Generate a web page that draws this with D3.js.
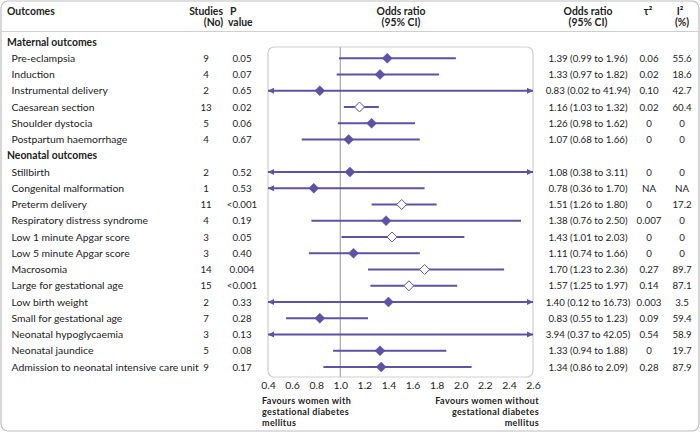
<!DOCTYPE html>
<html>
<head>
<meta charset="utf-8">
<script src="https://cdn.jsdelivr.net/npm/d3@7"></script>
<style>
  html, body { margin: 0; padding: 0; background: #fff; }
  svg { display: block; }
  text { font-family: Lato, "Noto Sans", sans-serif; fill: #222; }
</style>
</head>
<body>
<svg id="chart" width="700" height="432"></svg>
<script>
// ---- Data ----
const groups = ["Maternal outcomes", "Neonatal outcomes"];
const outcomes = [
  "Pre-eclampsia", "Induction", "Instrumental delivery", "Caesarean section",
  "Shoulder dystocia", "Postpartum haemorrhage",
  "Stillbirth", "Congenital malformation", "Preterm delivery",
  "Respiratory distress syndrome", "Low 1 minute Apgar score", "Low 5 minute Apgar score",
  "Macrosomia", "Large for gestational age", "Low birth weight", "Small for gestational age",
  "Neonatal hypoglycaemia", "Neonatal jaundice", "Admission to neonatal intensive care unit"
];
const outcomeGroup = [0,0,0,0,0,0, 1,1,1,1,1,1,1,1,1,1,1,1,1];
const studies = [9,4,2,13,5,4, 2,1,11,4,3,3,14,15,2,7,3,5,9];
const pValues = ["0.05","0.07","0.65","0.02","0.06","0.67",
  "0.52","0.53","<0.001","0.19","0.05","0.40","0.004","<0.001","0.33","0.28","0.13","0.08","0.17"];
const oddsRatio = [1.39,1.33,0.83,1.16,1.26,1.07, 1.08,0.78,1.51,1.38,1.43,1.11,1.70,1.57,1.40,0.83,3.94,1.33,1.34];
const ciLower  = [0.99,0.97,0.02,1.03,0.98,0.68, 0.38,0.36,1.26,0.76,1.01,0.74,1.23,1.25,0.12,0.55,0.37,0.94,0.86];
const ciUpper  = [1.96,1.82,41.94,1.32,1.62,1.66, 3.11,1.70,1.80,2.50,2.03,1.66,2.36,1.97,16.73,1.23,42.05,1.88,2.09];
const tau2 = ["0.06","0.02","0.10","0.02","0","0", "0","NA","0","0.007","0","0","0.27","0.14","0.003","0.09","0.54","0","0.28"];
const i2   = ["55.6","18.6","42.7","60.4","0","0", "0","NA","17.2","0","0","0","89.7","87.1","3.5","59.4","58.9","19.7","87.9"];
const axisTicks = [0.4,0.6,0.8,1.0,1.2,1.4,1.6,1.8,2.0,2.2,2.4,2.6];

// ---- Build rows ----
const rows = [];
groups.forEach((g, gi) => {
  rows.push({key: "h" + gi, header: true, label: g});
  outcomes.forEach((o, i) => {
    if (outcomeGroup[i] === gi) rows.push({
      key: "r" + i, header: false, label: o, n: studies[i], p: pValues[i],
      or: oddsRatio[i], lo: ciLower[i], hi: ciUpper[i], tau: tau2[i], i2: i2[i]
    });
  });
});

const purple = "#5f51a3";
const fs = 10.4;     // label text
const fsNum = 9.7;   // numeric columns
const svg = d3.select("#chart");

const x = d3.scaleLinear().domain([0.4, 2.6]).range([268, 533]);
const y = d3.scalePoint().domain(rows.map(r => r.key)).range([42, 367]);
const panelTop = 47, panelBottom = 377;

// Outer border
svg.append("rect").attr("x", 1).attr("y", 1).attr("width", 698).attr("height", 430)
  .attr("rx", 7).attr("fill", "none").attr("stroke", "#bdbdbd").attr("stroke-width", 1.2);
// Header separator
svg.append("line").attr("x1", 1).attr("x2", 699).attr("y1", 31.5).attr("y2", 31.5)
  .attr("stroke", "#cfcfcf").attr("stroke-width", 1);

// Column headers
const hdr = svg.append("g").attr("font-weight", "bold").attr("font-size", fs);
hdr.append("text").attr("x", 7).attr("y", 15).text("Outcomes");
hdr.append("text").attr("x", 223).attr("y", 15).attr("text-anchor", "end").text("Studies");
hdr.append("text").attr("x", 223).attr("y", 26).attr("text-anchor", "end").text("(No)");
hdr.append("text").attr("x", 230).attr("y", 15).text("P");
hdr.append("text").attr("x", 228).attr("y", 26).text("value");
hdr.append("text").attr("x", 401).attr("y", 15).attr("text-anchor", "middle").text("Odds ratio");
hdr.append("text").attr("x", 401).attr("y", 26).attr("text-anchor", "middle").text("(95% CI)");
hdr.append("text").attr("x", 588).attr("y", 15).attr("text-anchor", "middle").text("Odds ratio");
hdr.append("text").attr("x", 588).attr("y", 26).attr("text-anchor", "middle").text("(95% CI)");
hdr.append("text").attr("x", 648).attr("y", 15).attr("text-anchor", "middle").text("τ²");
hdr.append("text").attr("x", 680).attr("y", 15).attr("text-anchor", "middle").text("I²");
hdr.append("text").attr("x", 682).attr("y", 26).attr("text-anchor", "middle").text("(%)");

// Plot panel
svg.append("rect").attr("x", x(0.4)).attr("y", panelTop)
  .attr("width", x(2.6) - x(0.4)).attr("height", panelBottom - panelTop)
  .attr("rx", 6).attr("fill", "none").attr("stroke", "#cfcfcf").attr("stroke-width", 1.2);
svg.append("line").attr("x1", x(1)).attr("x2", x(1)).attr("y1", panelTop).attr("y2", panelBottom)
  .attr("stroke", "#a8a8a8").attr("stroke-width", 1.2);

// Row text
const rowG = svg.append("g").attr("font-size", fs);
rows.forEach(r => {
  const yy = y(r.key) + 3.7;
  if (r.header) {
    rowG.append("text").attr("x", 7).attr("y", yy).attr("font-weight", "bold").text(r.label);
    return;
  }
  rowG.append("text").attr("x", 11.5).attr("y", yy).text(r.label);
  rowG.append("text").attr("x", 206).attr("y", yy).attr("text-anchor", "middle").attr("font-size", fsNum).text(r.n);
  rowG.append("text").attr("x", 242).attr("y", yy).attr("text-anchor", "middle").attr("font-size", fsNum).text(r.p);
  rowG.append("text").attr("x", 588).attr("y", yy).attr("text-anchor", "middle").attr("font-size", fsNum)
    .text(`${r.or.toFixed(2)} (${r.lo.toFixed(2)} to ${r.hi.toFixed(2)})`);
  rowG.append("text").attr("x", 649).attr("y", yy).attr("text-anchor", "middle").attr("font-size", fsNum).text(r.tau);
  rowG.append("text").attr("x", 682).attr("y", yy).attr("text-anchor", "middle").attr("font-size", fsNum).text(r.i2);
});

// Forest marks
const dom = x.domain();
const marks = svg.append("g");
const diamond = (cx, cy, s) => `M${cx},${cy - s}L${cx + s},${cy}L${cx},${cy + s}L${cx - s},${cy}Z`;
rows.filter(r => !r.header).forEach(r => {
  const cy = y(r.key);
  const l = Math.max(r.lo, dom[0]), h = Math.min(r.hi, dom[1]);
  marks.append("line").attr("x1", x(l)).attr("x2", x(h)).attr("y1", cy).attr("y2", cy)
    .attr("stroke", purple).attr("stroke-width", 2);
  if (r.lo < dom[0]) {
    const ax = x(dom[0]);
    marks.append("path").attr("d", `M${ax},${cy}L${ax + 6},${cy - 3}L${ax + 6},${cy + 3}Z`).attr("fill", purple);
  }
  if (r.hi > dom[1]) {
    const ax = x(dom[1]);
    marks.append("path").attr("d", `M${ax},${cy}L${ax - 6},${cy - 3}L${ax - 6},${cy + 3}Z`).attr("fill", purple);
  }
  if (r.or >= dom[0] && r.or <= dom[1]) {
    const sig = r.lo > 1 || r.hi < 1;
    marks.append("path").attr("d", diamond(x(r.or), cy, 5))
      .attr("fill", sig ? "#fff" : purple).attr("stroke", purple).attr("stroke-width", sig ? 1 : 0.5);
  }
});

// Axis
const axis = d3.axisBottom(x).tickValues(axisTicks).tickFormat(d3.format(".1f")).tickSize(0).tickPadding(5);
const ag = svg.append("g").attr("transform", `translate(0,${panelBottom})`).call(axis);
ag.select(".domain").remove();
ag.selectAll("text").attr("font-size", 10.4).attr("font-family", "Lato, 'Noto Sans', sans-serif").attr("fill", "#222");

// Favours labels
const fav = svg.append("g").attr("font-size", 9).attr("font-weight", "bold").attr("letter-spacing", 0.35);
["Favours women with", "gestational diabetes", "mellitus"].forEach((t, i) =>
  fav.append("text").attr("x", 262).attr("y", 404 + i * 10.8).text(t));
["Favours women without", "gestational diabetes", "mellitus"].forEach((t, i) =>
  fav.append("text").attr("x", 539).attr("y", 404 + i * 10.8).attr("text-anchor", "end").text(t));
</script>
</body>
</html>
